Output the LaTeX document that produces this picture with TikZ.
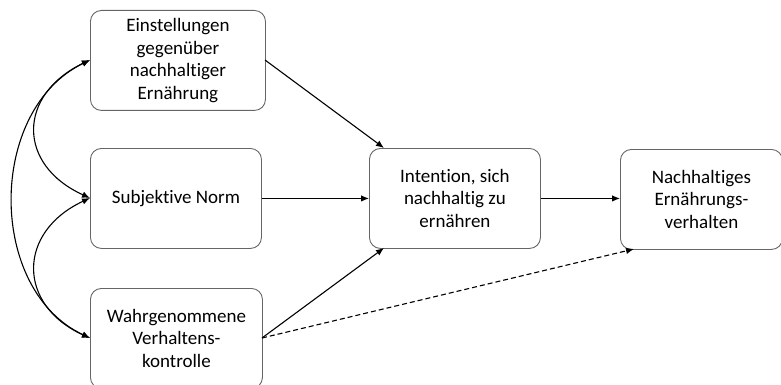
\documentclass[tikz,border=0pt]{standalone}
\usepackage{fontspec}
\setmainfont{Carlito}[Ligatures=NoCommon]
\usetikzlibrary{arrows.meta}
\begin{document}
\begin{tikzpicture}[x=1pt,y=-1pt,
  box/.style={draw=black!60, line width=0.9pt, rounded corners=11pt, align=center,
    font=\fontsize{19}{22.8}\selectfont, inner sep=0pt, anchor=north west},
  link/.style={line width=1.1pt, -{Latex[length=8pt,width=6.5pt]}},
  bilink/.style={line width=1.1pt, {Latex[length=8pt,width=6.5pt]}-{Latex[length=8pt,width=6.5pt]}}]
  \useasboundingbox (0,0) rectangle (781,385);
  % predictor boxes
  \node[box, minimum width=175pt, minimum height=100pt] (att) at (90,10)
    {Einstellungen\\gegenüber\\nachhaltiger\\Ernährung};
  \node[box, minimum width=171pt, minimum height=100pt] (norm) at (90,148)
    {Subjektive Norm};
  \node[box, minimum width=172pt, minimum height=100pt] (pbc) at (90,288)
    {Wahrgenommene\\Verhaltens-\\kontrolle};
  % intention and behaviour
  \node[box, minimum width=171pt, minimum height=100pt] (int) at (369,148)
    {Intention, sich\\nachhaltig zu\\ernähren};
  \node[box, minimum width=162pt, minimum height=100pt] (beh) at (620,149)
    {Nachhaltiges\\Ernährungs-\\verhalten};
  % anchor points
  \coordinate (attL) at (90,60);
  \coordinate (normL) at (90,198);
  \coordinate (pbcL) at (90,338);
  \coordinate (attR) at (265,60);
  \coordinate (pbcR) at (262,338);
  \coordinate (intTL) at (384,148);
  \coordinate (intBL) at (384,248);
  \coordinate (behBL) at (634,249);
  % correlations between predictors
  \draw[bilink] (attL) .. controls (17,95) and (17,165) .. (normL);
  \draw[bilink] (normL) .. controls (17,232) and (17,305) .. (pbcL);
  \draw[bilink] (attL) .. controls (-13,110) and (-13,290) .. (pbcL);
  % paths to intention
  \draw[link] (attR) -- (intTL);
  \draw[link] (norm.east) -- (int.west);
  \draw[link] (pbcR) -- (intBL);
  % intention to behaviour
  \draw[link] (int.east) -- (int.east -| beh.west);
  \draw[link, dashed, dash pattern=on 5pt off 3pt] (pbcR) -- (behBL);
\end{tikzpicture}
\end{document}
